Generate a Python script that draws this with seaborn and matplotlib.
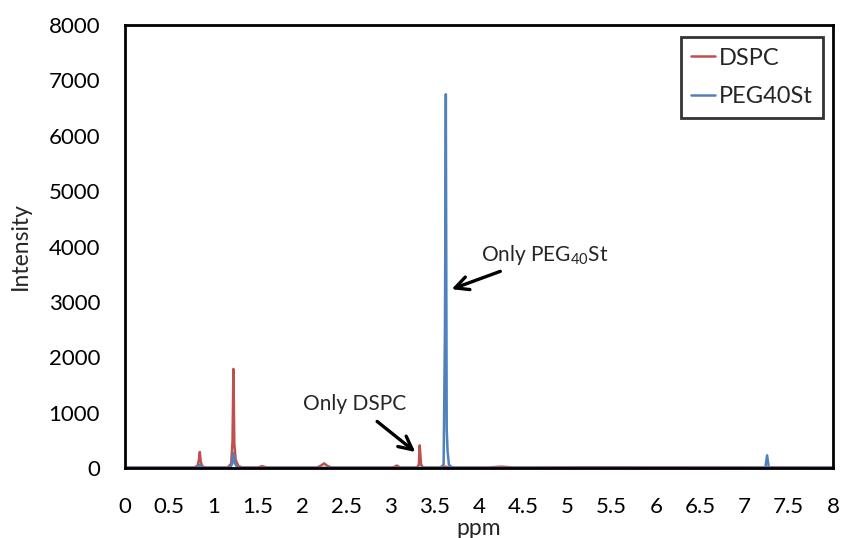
import matplotlib
matplotlib.use("Agg")
import matplotlib.pyplot as plt
import seaborn as sns
import pandas as pd

# ---- data ----
dspc_ppm = [0.00, 0.78, 0.82, 0.835, 0.845, 0.855, 0.87, 0.90, 1.16, 1.20, 1.215, 1.225,
            1.235, 1.25, 1.28, 1.32, 1.50, 1.55, 1.60, 2.17, 2.22, 2.25, 2.28, 2.33,
            3.03, 3.07, 3.11, 3.30, 3.32, 3.33, 3.345, 3.37, 3.59, 3.62, 3.66, 4.10,
            4.25, 4.40, 5.20, 8.00]
dspc_int = [10, 10, 40, 150, 290, 120, 40, 10, 10, 80, 500, 1790,
            450, 150, 40, 12, 10, 35, 10, 10, 50, 85, 45, 10,
            10, 45, 10, 10, 60, 410, 60, 10, 10, 25, 10, 10,
            25, 10, 15, 10]
peg_ppm = [0.00, 0.82, 0.845, 0.87, 1.19, 1.21, 1.225, 1.24, 1.27, 3.56, 3.60, 3.615,
           3.625, 3.635, 3.645, 3.66, 3.70, 7.235, 7.255, 7.275, 8.00]
peg_int = [5, 5, 60, 5, 5, 80, 270, 90, 5, 5, 60, 2500,
           6750, 700, 300, 60, 5, 5, 230, 5, 5]

series_names = ["DSPC", "PEG40St"]
x_ticks = [0, 0.5, 1, 1.5, 2, 2.5, 3, 3.5, 4, 4.5, 5, 5.5, 6, 6.5, 7, 7.5, 8]
x_tick_labels = ["0", "0.5", "1", "1.5", "2", "2.5", "3", "3.5", "4", "4.5", "5",
                 "5.5", "6", "6.5", "7", "7.5", "8"]
y_ticks = [0, 1000, 2000, 3000, 4000, 5000, 6000, 7000, 8000]

df = pd.concat([
    pd.DataFrame({"ppm": dspc_ppm, "Intensity": dspc_int, "Sample": series_names[0]}),
    pd.DataFrame({"ppm": peg_ppm, "Intensity": peg_int, "Sample": series_names[1]}),
], ignore_index=True)

sns.set_style("white")
plt.rcParams["font.family"] = ["Lato", "DejaVu Sans"]

fig = plt.figure(figsize=(8.47, 5.38), dpi=100)
ax = fig.add_axes([0.1476, 0.130, 0.8359, 0.8235])

palette = {"DSPC": "#C0504D", "PEG40St": "#4F81BD"}
sns.lineplot(data=df, x="ppm", y="Intensity", hue="Sample", palette=palette,
             sort=False, estimator=None, linewidth=1.8, ax=ax)

ax.set_xlim(0, 8)
ax.set_ylim(0, 8000)
ax.set_xticks(x_ticks)
ax.set_xticklabels(x_tick_labels)
ax.set_yticks(y_ticks)
ax.tick_params(axis="both", which="both", direction="out", length=6, width=1.2,
               color="#888888", labelsize=16, labelcolor="black", pad=5)
ax.tick_params(axis="y", pad=12)
ax.tick_params(axis="x", pad=15)
for s in ax.spines.values():
    s.set_color("black")
    s.set_linewidth(2)

ax.set_xlabel("ppm", fontsize=16.5, va="center")
ax.xaxis.set_label_coords(0.5, -0.136)
ax.set_ylabel("Intensity", fontsize=16.5, va="center")
ax.yaxis.set_label_coords(-0.148, 0.5)

leg = ax.legend(loc="upper right", fontsize=17, frameon=True, fancybox=False,
                handlelength=1.0, handletextpad=0.15, borderpad=0.45,
                labelspacing=0.75, borderaxespad=0,
                bbox_to_anchor=(0.986, 0.973))
leg.get_frame().set_edgecolor("black")
leg.get_frame().set_linewidth(2)

ax.annotate(r"Only PEG$_{\mathregular{40}}$St", xy=(3.69, 3230), xytext=(4.02, 3845),
            fontsize=15, va="center", ha="left",
            arrowprops=dict(arrowstyle="->", lw=2.4, color="black",
                            mutation_scale=24, shrinkA=2, shrinkB=0))
ax.annotate("Only DSPC", xy=(3.28, 290), xytext=(2.60, 1160),
            fontsize=15, va="center", ha="center",
            arrowprops=dict(arrowstyle="->", lw=2.4, color="black",
                            mutation_scale=24, shrinkA=5, shrinkB=0))

fig.savefig("out.png", dpi=100)
